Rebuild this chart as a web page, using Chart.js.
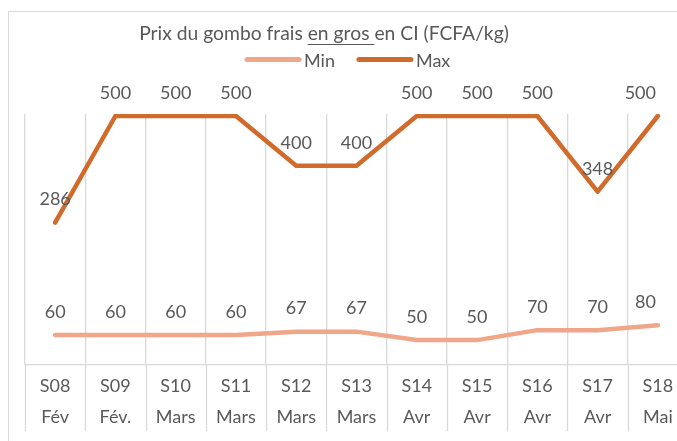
<!DOCTYPE html>
<html>
<head>
<meta charset="utf-8">
<script src="https://cdn.jsdelivr.net/npm/chart.js@4.4.1/dist/chart.umd.min.js"></script>
<style>
  html, body { margin: 0; padding: 0; background: #fff; overflow: hidden; }
  #wrap { position: relative; width: 700px; height: 441px; }
  #cadre { position: absolute; left: 8px; top: 11px; width: 720px; height: 500px; border: 1px solid #d9d9d9; }
  canvas { position: absolute; left: 0; top: 0; }
</style>
</head>
<body>
<div id="wrap">
  <div id="cadre"></div>
  <canvas id="graphique" width="700" height="441"></canvas>
</div>
<script>
// Données
const semaines = ['S08', 'S09', 'S10', 'S11', 'S12', 'S13', 'S14', 'S15', 'S16', 'S17', 'S18'];
const mois = ['Fév', 'Fév.', 'Mars', 'Mars', 'Mars', 'Mars', 'Avr', 'Avr', 'Avr', 'Avr', 'Mai'];
const prixMin = [60, 60, 60, 60, 67, 67, 50, 50, 70, 70, 80];
const prixMax = [286, 500, 500, 500, 400, 400, 500, 500, 500, 348, 500];

const couleurMin = '#F0A689';
const couleurMax = '#D16B2B';
const gris = '#595959';
const police = 'Lato, "Open Sans", sans-serif';

// Titre + légende dessinés à la main (soulignement de "en gros")
const titreLegende = {
    id: 'titreLegende',
    afterDraw(chart) {
        const ctx = chart.ctx;
        ctx.save();
        ctx.font = '19.3px ' + police;
        ctx.fillStyle = gris;
        ctx.textBaseline = 'alphabetic';
        const parties = ['Prix du gombo frais ', 'en gros ', 'en CI (FCFA/kg)'];
        const larg = parties.map(p => ctx.measureText(p).width);
        const total = larg.reduce((a, b) => a + b, 0);
        let x = 324 - total / 2;
        parties.forEach((p, i) => {
            ctx.fillText(p, x, 40);
            if (i === 1) {
                ctx.strokeStyle = gris;
                ctx.lineWidth = 1;
                ctx.beginPath();
                ctx.moveTo(x, 44.5);
                ctx.lineTo(x + larg[i], 44.5);
                ctx.stroke();
            }
            x += larg[i];
        });

        // légende
        ctx.font = '18px ' + police;
        const items = [['Min', couleurMin], ['Max', couleurMax]];
        let lx = 247;
        ctx.lineCap = 'round';
        items.forEach(([txt, c]) => {
            ctx.strokeStyle = c;
            ctx.lineWidth = 5;
            ctx.beginPath();
            ctx.moveTo(lx, 59.5);
            ctx.lineTo(lx + 52, 59.5);
            ctx.stroke();
            ctx.fillStyle = gris;
            ctx.fillText(txt, lx + 57, 67);
            lx += 57 + ctx.measureText(txt).width + 24;
        });
        ctx.restore();
    }
};

// Étiquettes de valeurs + traits de grille sous l'axe
const etiquettes = {
    id: 'etiquettes',
    afterDraw(chart) {
        const ctx = chart.ctx;
        const xs = chart.scales.x;
        const area = chart.chartArea;
        ctx.save();
        // prolonger les séparateurs dans la zone des libellés
        const demi = (xs.getPixelForValue(1) - xs.getPixelForValue(0)) / 2;
        ctx.strokeStyle = '#d9d9d9';
        ctx.lineWidth = 1.3;
        for (let i = 0; i <= semaines.length; i++) {
            const x = Math.round(xs.getPixelForValue(0) - demi + i * demi * 2) + 0.5;
            ctx.beginPath();
            ctx.moveTo(x, area.bottom);
            ctx.lineTo(x, 431);
            ctx.stroke();
        }
        ctx.font = '18px ' + police;
        ctx.fillStyle = gris;
        ctx.textAlign = 'center';
        ctx.textBaseline = 'middle';
        chart.data.datasets.forEach((ds, di) => {
            const meta = chart.getDatasetMeta(di);
            meta.data.forEach((pt, i) => {
                const txt = String(ds.data[i]);
                const w = ctx.measureText(txt).width;
                const x = Math.min(pt.x, 656 - w / 2);
                ctx.fillText(txt, x, pt.y - 23);
            });
        });
        ctx.restore();
    }
};

const ctx = document.getElementById('graphique').getContext('2d');
new Chart(ctx, {
    type: 'line',
    data: {
        labels: semaines.map((s, i) => [s, mois[i]]),
        datasets: [{
            label: 'Min',
            data: prixMin,
            borderColor: couleurMin,
            backgroundColor: couleurMin,
            borderWidth: 4.5,
            borderCapStyle: 'round',
            borderJoinStyle: 'round',
            pointRadius: 0,
            tension: 0
        }, {
            label: 'Max',
            data: prixMax,
            borderColor: couleurMax,
            backgroundColor: couleurMax,
            borderWidth: 4.5,
            borderCapStyle: 'round',
            borderJoinStyle: 'round',
            pointRadius: 0,
            tension: 0
        }]
    },
    options: {
        responsive: false,
        animation: false,
        layout: { padding: { left: 25, right: 12, top: 114, bottom: 0 } },
        plugins: {
            legend: { display: false },
            title: { display: false },
            tooltip: { enabled: false }
        },
        scales: {
            x: {
                offset: true,
                grid: { offset: true, color: '#d9d9d9', lineWidth: 1.3, drawTicks: false },
                border: { display: true, color: '#d9d9d9', width: 1.3 },
                ticks: {
                    color: gris,
                    padding: 6,
                    maxRotation: 0,
                    autoSkip: false,
                    font: { family: police, size: 18, lineHeight: 1.72 }
                },
                afterFit(scale) { scale.height = 76; }
            },
            y: {
                display: false,
                min: 0,
                max: 504
            }
        }
    },
    plugins: [titreLegende, etiquettes]
});
</script>
</body>
</html>
